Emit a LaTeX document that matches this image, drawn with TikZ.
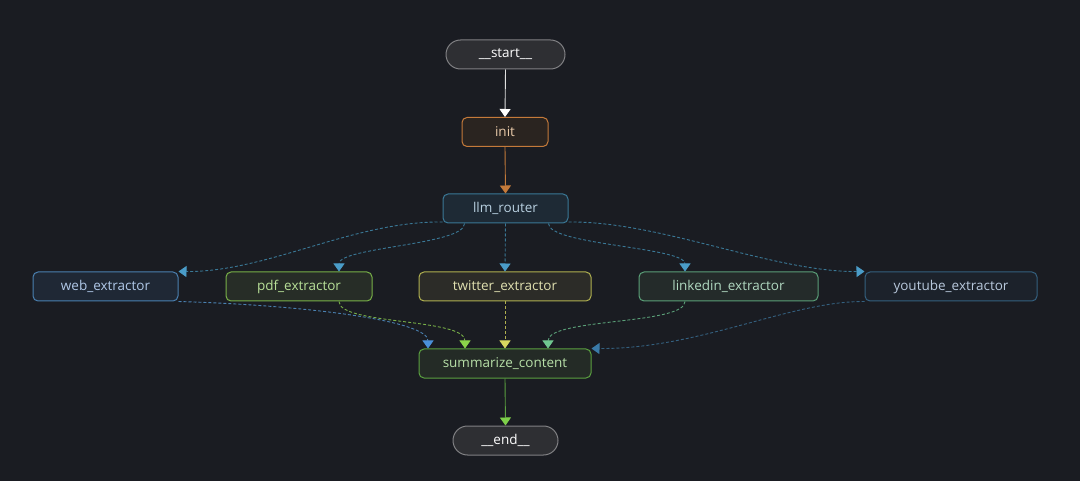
\documentclass[tikz,border=0pt]{standalone}
\usepackage{fontspec}
\setmainfont{Open Sans}
\usetikzlibrary{arrows.meta,shapes.misc}
\definecolor{bg}{HTML}{1A1C22}
\definecolor{termf}{HTML}{2E2F33}
\definecolor{termb}{HTML}{808083}
\definecolor{initb}{HTML}{C47A3A}
\definecolor{initf}{HTML}{2A2420}
\definecolor{initt}{HTML}{E8C9A8}
\definecolor{llmb}{HTML}{3A7896}
\definecolor{llmf}{HTML}{1E2A35}
\definecolor{llmt}{HTML}{B8D0E0}
\definecolor{llma}{HTML}{4A9CC8}
\definecolor{webb}{HTML}{4A80B0}
\definecolor{webf}{HTML}{1F2835}
\definecolor{webt}{HTML}{B0C8E8}
\definecolor{weba}{HTML}{4A90D9}
\definecolor{pdfb}{HTML}{78B048}
\definecolor{pdff}{HTML}{272D27}
\definecolor{pdft}{HTML}{B8E098}
\definecolor{pdfa}{HTML}{8BD44A}
\definecolor{twb}{HTML}{B0B050}
\definecolor{twf}{HTML}{2C2C28}
\definecolor{twt}{HTML}{E0E0B0}
\definecolor{twa}{HTML}{D8D860}
\definecolor{lib}{HTML}{5A9F78}
\definecolor{lif}{HTML}{242B2A}
\definecolor{lit}{HTML}{B0D8C0}
\definecolor{lia}{HTML}{70C890}
\definecolor{ytb}{HTML}{34607F}
\definecolor{ytf}{HTML}{1C222B}
\definecolor{ytt}{HTML}{B8C8DC}
\definecolor{yta}{HTML}{3A7AA8}
\definecolor{sumb}{HTML}{5AA040}
\definecolor{sumf}{HTML}{242B26}
\definecolor{sumt}{HTML}{B8E0A8}
\definecolor{suma}{HTML}{7ED04A}
\begin{document}
\begin{tikzpicture}[x=1pt,y=-1pt,
  font=\fontsize{13.5}{15}\selectfont,
  box/.style={draw, rounded corners=5pt, line width=1pt, minimum height=29pt, inner sep=0pt},
  term/.style={draw, rounded rectangle, line width=1pt, minimum height=29pt, inner sep=0pt},
  conn/.style={line width=0.9pt, -{Triangle[width=11pt,length=8pt,color=#1]}},
  dsh/.style={dash pattern=on 3pt off 2pt}]
\fill[bg] (0,0) rectangle (1080,481);
\useasboundingbox (0,0) rectangle (1080,481);

\node[term, draw=termb, fill=termf, text=white, minimum width=119pt] (start) at (505.5,54.5) {\_\_start\_\_};
\node[box, draw=initb, fill=initf, text=initt, minimum width=86pt] (init) at (505,132) {init};
\node[box, draw=llmb, fill=llmf, text=llmt, minimum width=125pt] (llm) at (505.5,208.5) {llm\_router};
\node[box, draw=webb, fill=webf, text=webt, minimum width=145pt] (web) at (105.5,286.5) {web\_extractor};
\node[box, draw=pdfb, fill=pdff, text=pdft, minimum width=146pt] (pdf) at (299,286.5) {pdf\_extractor};
\node[box, draw=twb, fill=twf, text=twt, minimum width=172pt] (tw) at (505,286.5) {twitter\_extractor};
\node[box, draw=lib, fill=lif, text=lit, minimum width=179pt] (li) at (728.5,286.5) {linkedin\_extractor};
\node[box, draw=ytb, fill=ytf, text=ytt, minimum width=172pt] (yt) at (951,286.5) {youtube\_extractor};
\node[box, draw=sumb, fill=sumf, text=sumt, minimum width=172pt] (sum) at (505,363.5) {summarize\_content};
\node[term, draw=termb, fill=termf, text=white, minimum width=105pt] (end) at (505.5,440.5) {\_\_end\_\_};

\draw[conn=white, draw=white!88!black] (start.south) -- (init.north);
\draw[conn=initb, draw=initb] (init.south) -- (llm.north);

\draw[conn=llma, draw=llmb, dsh] ([yshift=1.5pt]llm.south west) .. controls (353,221) and (268,272) .. (web.north east);
\draw[conn=llma, draw=llmb, dsh] ([xshift=22pt]llm.south west) .. controls (465,245) and (339,247) .. ([xshift=40pt]pdf.north);
\draw[conn=llma, draw=llmb, dsh] (llm.south) -- (tw.north);
\draw[conn=llma, draw=llmb, dsh] ([xshift=-20pt]llm.south east) .. controls (548,245) and (685,247) .. ([xshift=-43.5pt]li.north);
\draw[conn=llma, draw=llmb, dsh] ([yshift=1.5pt]llm.south east) .. controls (660,221) and (773,272) .. (yt.north west);

\draw[conn=weba, draw=webb, dsh] (web.south east) .. controls (300,305) and (428,320) .. ([xshift=-77pt]sum.north);
\draw[conn=pdfa, draw=pdfb, dsh] ([xshift=40pt]pdf.south) .. controls (339,325) and (465,318) .. ([xshift=-40pt]sum.north);
\draw[conn=twa, draw=twb, dsh] (tw.south) -- (sum.north);
\draw[conn=lia, draw=lib, dsh] ([xshift=-43.5pt]li.south) .. controls (685,325) and (548,318) .. ([xshift=43pt]sum.north);
\draw[conn=yta, draw=ytb, dsh] (yt.south west) .. controls (790,301) and (700,349) .. (sum.north east);

\draw[conn=suma, draw=sumb] (sum.south) -- (end.north);
\end{tikzpicture}
\end{document}
